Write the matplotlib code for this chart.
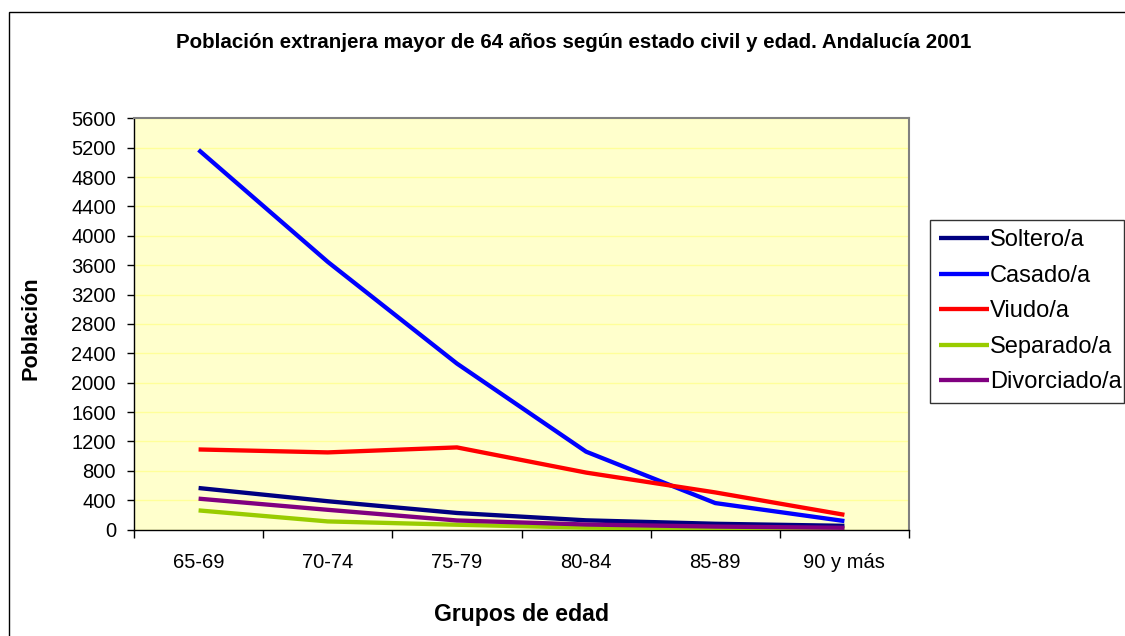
import matplotlib
matplotlib.use("Agg")
import matplotlib.pyplot as plt
from matplotlib.patches import Rectangle
from matplotlib.ticker import MultipleLocator, FixedLocator

plt.rcParams['font.family'] = ['Liberation Sans', 'DejaVu Sans']

categories = ["65-69", "70-74", "75-79", "80-84", "85-89", "90 y más"]
soltero = [565, 385, 225, 125, 78, 50]
casado = [5170, 3645, 2260, 1060, 360, 115]
viudo = [1090, 1050, 1118, 775, 505, 200]
separado = [260, 110, 65, 25, 10, 5]
divorciado = [420, 268, 123, 68, 40, 23]

series = [
    ("Soltero/a", soltero, "#000080"),
    ("Casado/a", casado, "#0000FF"),
    ("Viudo/a", viudo, "#FF0000"),
    ("Separado/a", separado, "#99CC00"),
    ("Divorciado/a", divorciado, "#800080"),
]

W, H = 1125, 636
fig = plt.figure(figsize=(W / 100, H / 100), dpi=100)
fig.patch.set_facecolor("white")

ax = fig.add_axes([134 / W, 1 - 529.5 / H, (909 - 134) / W, (529.5 - 118.3) / H])
ax.set_facecolor("#FFFFCC")

x = list(range(len(categories)))
for name, vals, col in series:
    ax.plot(x, vals, color=col, lw=3.1, label=name, solid_capstyle="butt", zorder=3)

ax.set_xlim(-0.5, len(categories) - 0.5)
ax.set_ylim(0, 5600)
ax.yaxis.set_major_locator(MultipleLocator(400))
ax.grid(axis="y", color="#FFFF99", lw=1, zorder=0)
ax.set_axisbelow(True)

ax.set_xticks(x)
ax.set_xticklabels(categories, fontsize=14.5)
ax.tick_params(axis="x", which="major", length=0, pad=17)
ax.xaxis.set_minor_locator(FixedLocator([i - 0.5 for i in range(len(categories) + 1)]))
ax.tick_params(axis="x", which="minor", length=6, width=1, color="black", direction="out")
ax.tick_params(axis="y", length=5, width=1, color="black", direction="out", labelsize=14.5, pad=8)

for s in ["top", "right"]:
    ax.spines[s].set_color("#808080")
    ax.spines[s].set_linewidth(1.5)
for s in ["left", "bottom"]:
    ax.spines[s].set_color("black")
    ax.spines[s].set_linewidth(1)

fig.text(573.5 / W, 1 - 43 / H, "Población extranjera mayor de 64 años según estado civil y edad. Andalucía 2001",
         ha="center", va="center", fontsize=14.8, fontweight="bold")
fig.text(522 / W, 1 - 615 / H, "Grupos de edad", ha="center", va="center", fontsize=16.6, fontweight="bold")
fig.text(31 / W, 1 - 328 / H, "Población", ha="center", va="center", rotation=90, fontsize=15.6, fontweight="bold")

leg = fig.legend(loc="upper left", bbox_to_anchor=(930 / W, 1 - 400 / H, 194 / W, 180 / H),
                 mode="expand", fontsize=17, frameon=True, fancybox=False,
                 handlelength=2.1, handletextpad=0.05, labelspacing=0.57, borderpad=0.4,
                 borderaxespad=0)
leg.get_frame().set_edgecolor("black")
leg.get_frame().set_linewidth(1)

fig.add_artist(Rectangle((9 / W, -0.1), 1.0, 1 - 12 / H + 0.1, transform=fig.transFigure,
                         fill=False, edgecolor="black", lw=1))

fig.savefig("out.png", dpi=100)
